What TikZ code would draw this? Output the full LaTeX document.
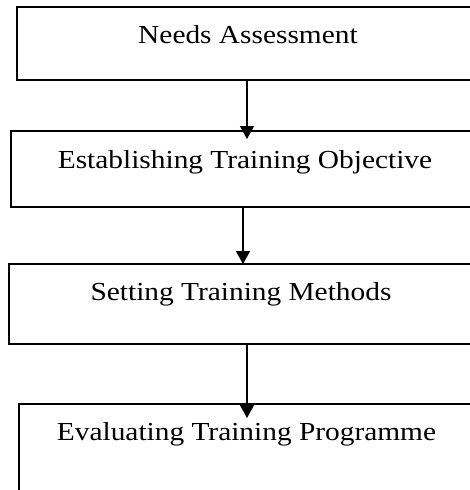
\documentclass[tikz,border=0pt]{standalone}
\usepackage{fontspec}
\setmainfont[FakeStretch=1.13]{Liberation Serif}
\usetikzlibrary{arrows.meta}
\tikzset{
  box/.style={draw=black, line width=1.8pt, inner sep=0pt, rectangle},
  lbl/.style={anchor=base, inner sep=0pt, font=\fontsize{26}{31}\selectfont},
  arr/.style={line width=1.6pt, -{Triangle[length=13pt,width=14pt]}}
}
\begin{document}
\begin{tikzpicture}[x=1pt,y=-1pt]
\useasboundingbox (0,0) rectangle (470,490);
\clip (0,0) rectangle (470,490);
% boxes
\node[box, minimum width=460pt, minimum height=73pt] (b1) at (247,43.5) {};
\node[box, minimum width=464pt, minimum height=76pt] (b2) at (243,169) {};
\node[box, minimum width=476pt, minimum height=80pt] (b3) at (247,304) {};
\node[box, minimum width=456pt, minimum height=96pt] (b4) at (247,452) {};
% labels
\node[lbl] (t1) at (248,43) {Needs Assessment};
\node[lbl] (t2) at (245,168) {Establishing Training Objective};
\node[lbl] (t3) at (241,300) {Setting Training Methods};
\node[lbl] (t4) at (246.5,440) {Evaluating Training Programme};
% arrow ends
\coordinate (e1) at (247,139);
\coordinate (e2) at (243,264);
\coordinate (e3) at (247,418);
\draw[arr] (b1.south) -- (e1);
\draw[arr] (b2.south) -- (e2);
\draw[arr] (b3.south) -- (e3);
\end{tikzpicture}
\end{document}
